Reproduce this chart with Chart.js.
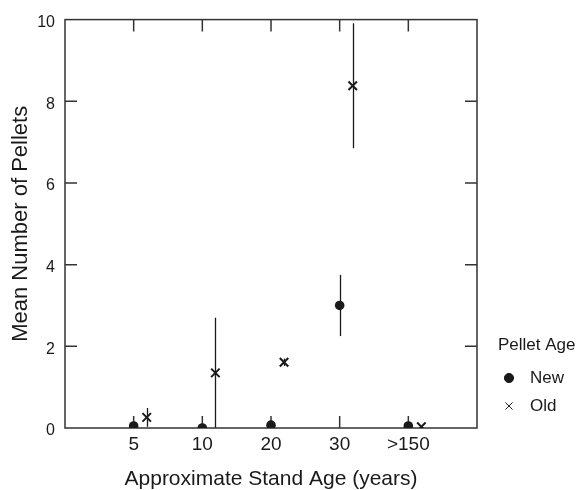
<!DOCTYPE html>
<html>
<head>
<meta charset="utf-8">
<script src="https://cdn.jsdelivr.net/npm/chart.js@4"></script>
<style>
  html, body { margin: 0; padding: 0; background: #fff; }
</style>
</head>
<body>
<canvas id="pelletChart" width="584" height="490"></canvas>
<script>
const standAges = ['5', '10', '20', '30', '>150'];
const newMeans = [0.05, 0, 0.07, 3.0, 0.05];
const newErrors = [0, 0, 0, 0.75, 0];
const oldMeans = [0.26, 1.35, 1.61, 8.38, 0.03];
const oldErrors = [0.23, 1.35, 0.09, 1.53, 0];
const yTicks = [0, 2, 4, 6, 8, 10];
const legendTitle = 'Pellet Age';

const FONT = '"Liberation Sans", Arial, Helvetica, sans-serif';
const INK = '#1a1a1a';
const OLD_SHIFT = 0.19; // old pellets drawn a little right of the category

// vertical error bars, drawn under the markers
const errorBars = {
  id: 'errorBars',
  beforeDatasetsDraw(chart) {
    const { ctx, scales: { x, y } } = chart;
    ctx.save();
    ctx.strokeStyle = INK;
    ctx.lineWidth = 1.3;
    chart.data.datasets.forEach(ds => {
      ds.data.forEach((p, i) => {
        const e = ds.errors[i];
        if (!e) return;
        const px = Math.round(x.getPixelForValue(p.x)) + 0.5;
        ctx.beginPath();
        ctx.moveTo(px, y.getPixelForValue(p.y - e));
        ctx.lineTo(px, y.getPixelForValue(p.y + e));
        ctx.stroke();
      });
    });
    ctx.restore();
  }
};

// box round the plot with short inward ticks on all four sides
const frame = {
  id: 'frame',
  beforeDatasetsDraw(chart) {
    const { ctx, chartArea: a, scales: { x, y } } = chart;
    const len = 12;
    ctx.save();
    ctx.strokeStyle = '#333';
    ctx.lineWidth = 1.5;
    ctx.strokeRect(a.left, a.top, a.right - a.left, a.bottom - a.top);
    ctx.beginPath();
    x.ticks.forEach(t => {
      const px = x.getPixelForValue(t.value);
      ctx.moveTo(px, a.bottom); ctx.lineTo(px, a.bottom - len);
      ctx.moveTo(px, a.top); ctx.lineTo(px, a.top + len);
    });
    y.ticks.forEach(t => {
      if (t.value === y.min || t.value === y.max) return;
      const py = y.getPixelForValue(t.value);
      ctx.moveTo(a.left, py); ctx.lineTo(a.left + len, py);
      ctx.moveTo(a.right, py); ctx.lineTo(a.right - len, py);
    });
    ctx.stroke();
    ctx.restore();
  }
};

// legend at the lower right, outside the plot
const sideLegend = {
  id: 'sideLegend',
  afterDraw(chart) {
    const { ctx, chartArea: a } = chart;
    const x0 = a.right + 21;
    ctx.save();
    ctx.fillStyle = INK;
    ctx.strokeStyle = INK;
    ctx.font = '17px ' + FONT;
    ctx.textBaseline = 'middle';
    ctx.textAlign = 'left';
    ctx.fillText(legendTitle, x0, 345);
    chart.data.datasets.forEach((ds, i) => {
      const cy = 378 + i * 28;
      Chart.helpers.drawPoint(ctx, {
        pointStyle: ds.pointStyle,
        radius: ds.pointStyle === 'circle' ? 4.6 : 5,
        borderWidth: 1.3,
        rotation: 0
      }, x0 + 11, cy);
      ctx.fillText(ds.label, x0 + 32, cy);
    });
    ctx.restore();
  }
};

new Chart(document.getElementById('pelletChart'), {
  type: 'scatter',
  data: {
    datasets: [
      {
        label: 'New',
        data: newMeans.map((v, i) => ({ x: i + 1, y: v })),
        errors: newErrors,
        pointStyle: 'circle',
        pointRadius: 4.8,
        backgroundColor: INK,
        borderColor: INK,
        borderWidth: 0
      },
      {
        label: 'Old',
        data: oldMeans.map((v, i) => ({ x: i + 1 + OLD_SHIFT, y: v })),
        errors: oldErrors,
        pointStyle: 'crossRot',
        pointRadius: 6,
        backgroundColor: INK,
        borderColor: INK,
        borderWidth: 2
      }
    ]
  },
  options: {
    responsive: false,
    animation: false,
    layout: { padding: { top: 17, right: 107, left: 0, bottom: 0 } },
    plugins: {
      legend: { display: false },
      tooltip: { enabled: false }
    },
    scales: {
      x: {
        type: 'linear',
        min: 0,
        max: 6,
        grid: { display: false, drawTicks: false },
        border: { display: false },
        afterBuildTicks: s => { s.ticks = standAges.map((_, i) => ({ value: i + 1 })); },
        afterFit: s => { s.height = 62; },
        ticks: {
          color: INK,
          padding: 5,
          maxRotation: 0,
          font: { family: FONT, size: 19 },
          callback: (v, i) => standAges[i]
        },
        title: {
          display: true,
          text: 'Approximate Stand Age (years)',
          color: INK,
          font: { family: FONT, size: 21, lineHeight: 1 },
          padding: { top: 0, bottom: 0 }
        }
      },
      y: {
        min: 0,
        max: 10,
        grid: { display: false, drawTicks: false },
        border: { display: false },
        afterBuildTicks: s => { s.ticks = yTicks.map(v => ({ value: v })); },
        afterFit: s => { s.width = 65; },
        ticks: {
          color: INK,
          padding: 10,
          labelOffset: 3,
          font: { family: FONT, size: 16 }
        },
        title: {
          display: true,
          text: 'Mean Number of Pellets',
          color: INK,
          font: { family: FONT, size: 22, lineHeight: 1 },
          padding: { top: 10, bottom: 0 }
        }
      }
    }
  },
  plugins: [errorBars, frame, sideLegend]
});
</script>
</body>
</html>
